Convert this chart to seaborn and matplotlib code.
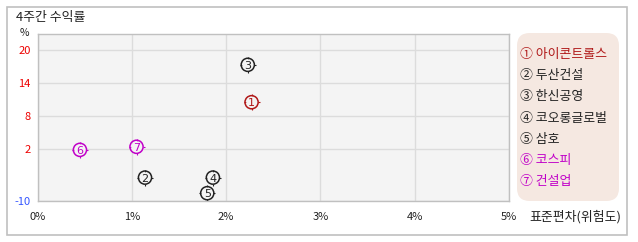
import numpy as np
import pandas as pd
import matplotlib
matplotlib.use("Agg")
import matplotlib.pyplot as plt
from matplotlib.patches import Rectangle, FancyBboxPatch
from matplotlib.scale import FuncScale
import seaborn as sns

# ---- data ----
names = ["아이콘트롤스", "두산건설", "한신공영", "코오롱글로벌", "삼호", "코스피", "건설업"]
symbols = ["①", "②", "③", "④", "⑤", "⑥", "⑦"]
numbers = ["1", "2", "3", "4", "5", "6", "7"]
risk_pct = [2.27, 1.14, 2.23, 1.86, 1.80, 0.45, 1.05]     # x: std dev (%)
return_pct = [10.5, -4.6, 17.3, -4.6, -8.2, 1.8, 2.4]      # y: 4-week return (%)
colors = ["#b01818", "#222222", "#222222", "#222222", "#222222", "#c000c8", "#c000c8"]
x_ticks = [0, 1, 2, 3, 4, 5]
x_ticklabels = ["0%", "1%", "2%", "3%", "4%", "5%"]
y_ticks = [-10, 2, 8, 14, 20]
y_tick_colors = ["#3355ff", "#ee0000", "#ee0000", "#ee0000", "#ee0000"]

sns.set_theme(style="white")
plt.rcParams["font.family"] = ["Noto Sans CJK KR", "DejaVu Sans"]

W, H = 638, 242
fig = plt.figure(figsize=(W / 100, H / 100), dpi=100)
fig.patch.set_facecolor("white")

def fx(px):
    return px / W

def fy(py):
    return 1 - py / H

# outer border
fig.patches.append(Rectangle((fx(7), fy(235)), fx(620), 228 / H, transform=fig.transFigure,
                             fill=False, edgecolor="#c0c0c0", linewidth=1.2))

ax = fig.add_axes([fx(37.5), fy(201), fx(509 - 37.5), (201 - 34) / H])
ax.set_facecolor("#f4f4f4")

# piecewise y scale: values below 2 are compressed
K = 52 / 66
def fwd(y):
    y = np.asarray(y, dtype=float)
    return np.where(y >= 2, y, 2 + (y - 2) * K)
def inv(y):
    y = np.asarray(y, dtype=float)
    return np.where(y >= 2, y, 2 + (y - 2) / K)
ax.set_yscale(FuncScale(ax, (fwd, inv)))

df = pd.DataFrame({"risk": risk_pct, "ret": return_pct, "name": names, "num": numbers})

# little ticks around circles (drawn first, masked by a disc)
for xv, yv, c in zip(risk_pct, return_pct, colors):
    ax.plot([xv], [yv], marker="+", markersize=11.5, mew=0.8, color=c, zorder=2)
    ax.scatter([xv], [yv], s=80, color="#f4f4f4", zorder=2.5, linewidth=0)

sns.scatterplot(data=df, x="risk", y="ret", hue="name", palette=dict(zip(names, colors)),
                s=90, linewidth=1.1, legend=False, ax=ax, zorder=3, marker="o")
coll = ax.collections[-1]
coll.set_facecolor("none")
coll.set_edgecolor(colors)

for xv, yv, n, c in zip(risk_pct, return_pct, numbers, colors):
    ax.text(xv, yv, n, ha="center", va="center_baseline", fontsize=8, color=c, zorder=4,
            family=["DejaVu Sans"])

ax.set_xlim(0, 5)
ax.set_ylim(-10, 22.9)
ax.set_xticks(x_ticks)
ax.set_xticklabels(x_ticklabels, fontsize=8, color="#222222")
ax.set_yticks(y_ticks)
ax.set_yticklabels([str(v) for v in y_ticks], fontsize=8)
for lab, c in zip(ax.get_yticklabels(), y_tick_colors):
    lab.set_color(c)
ax.tick_params(axis="x", length=0, pad=8)
ax.tick_params(axis="y", length=0, pad=5)
ax.grid(True, color="#dcdcdc", linewidth=1)
ax.set_axisbelow(True)
for s in ax.spines.values():
    s.set_color("#c0c0c0")
    s.set_linewidth(1)
ax.set_xlabel("")
ax.set_ylabel("")

# texts
fig.text(fx(16), fy(18), "4주간 수익률", fontsize=9.3, ha="left", va="center", color="#222222")
fig.text(fx(24), fy(33), "%", fontsize=7.5, ha="center", va="center", color="#222222")
fig.text(fx(621), fy(217), "표준편차(위험도)", fontsize=9.3, ha="right", va="center", color="#222222")

# legend box
fig.patches.append(FancyBboxPatch((fx(517), fy(201)), fx(102), (201 - 33) / H,
                                  boxstyle="round,pad=0,rounding_size=0.02",
                                  transform=fig.transFigure, facecolor="#f5e8e1",
                                  edgecolor="none", mutation_aspect=W / H))
for i, (sym, nm, c) in enumerate(zip(symbols, names, colors)):
    yy = 54.5 + i * 21.2
    fig.text(fx(520), fy(yy), sym + " " + nm, fontsize=9.3, ha="left", va="center", color=c)

fig.savefig("out.png", dpi=100)
